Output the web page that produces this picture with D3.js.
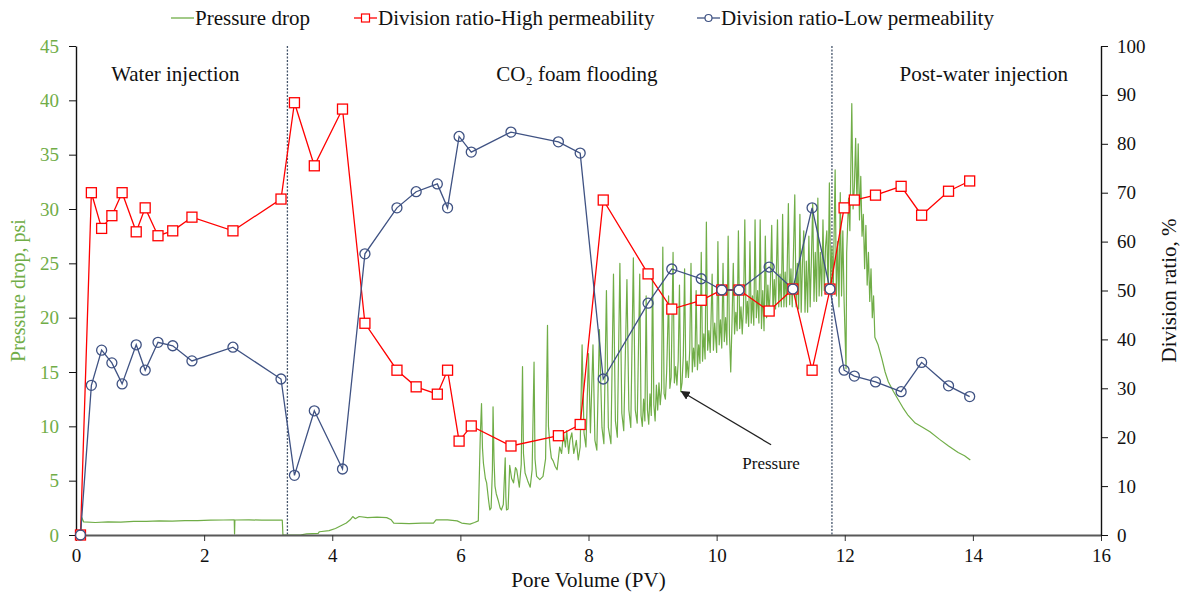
<!DOCTYPE html>
<html>
<head>
<meta charset="utf-8">
<script src="https://cdn.jsdelivr.net/npm/d3@7"></script>
<style>
  html, body { margin: 0; padding: 0; background: #fff; }
  svg { display: block; font-family: "Liberation Serif", "Times New Roman", serif; }
</style>
</head>
<body>
<svg id="chart" width="1183" height="598"></svg>
<script>
// Injection stages (pore volumes where the stage switches)
const stageBreaks = [3.30, 11.80];
const stageLabels = ["Water injection", "CO\u2082 foam flooding", "Post-water injection"];
const stageLabelPV = [1.55, 7.82, 14.17];

// Axis ticks
const xTicks = [0, 2, 4, 6, 8, 10, 12, 14, 16];
const pressureTicks = [0, 5, 10, 15, 20, 25, 30, 35, 40, 45];
const ratioTicks = [0, 10, 20, 30, 40, 50, 60, 70, 80, 90, 100];

// Sampling points of the division ratio (PV)
const samplePV = [0.07, 0.24, 0.40, 0.56, 0.72, 0.94, 1.08, 1.28, 1.51, 1.81, 2.45, 3.20,
  3.41, 3.72, 4.16, 4.51, 5.01, 5.31, 5.64, 5.80, 5.98, 6.17, 6.79, 7.53, 7.87,
  8.23, 8.93, 9.30, 9.76, 10.08, 10.35, 10.82, 11.19, 11.49, 11.77,
  11.99, 12.15, 12.48, 12.88, 13.20, 13.62, 13.95];

// Division ratio of the high-permeability core, %
const ratioHigh = [0, 70.0, 62.7, 65.3, 70.0, 62.0, 66.9, 61.2, 62.2, 65.0, 62.2, 68.7,
  88.4, 75.5, 87.1, 43.3, 33.7, 30.3, 28.8, 33.7, 19.2, 22.3, 18.2, 20.3, 22.6,
  68.5, 53.4, 46.2, 48.0, 50.1, 50.1, 45.8, 50.3, 33.7, 50.3,
  66.9, 68.5, 69.5, 71.3, 65.4, 70.3, 72.4];

// Division ratio of the low-permeability core, %
const ratioLow = [0, 30.6, 37.8, 35.2, 30.9, 38.9, 33.7, 39.4, 38.7, 35.6, 38.4, 31.9,
  12.2, 25.4, 13.5, 57.5, 66.9, 70.2, 71.8, 66.9, 81.5, 78.3, 82.4, 80.4, 78.1,
  31.9, 47.4, 54.4, 52.4, 50.1, 50.1, 54.8, 50.3, 66.9, 50.3,
  33.7, 32.5, 31.3, 29.3, 35.3, 30.5, 28.3];

// Recorded pressure drop [PV, psi]
const pressureTrace = [
  [0, 0], [0.07, 0], [0.09, 1.6], [0.12, 1.2], [0.3, 1.15], [0.5, 1.2], [0.7, 1.18], [0.9, 1.25],
  [1.1, 1.25], [1.3, 1.3], [1.5, 1.28], [1.7, 1.33], [1.9, 1.32], [2.1, 1.36], [2.3, 1.38],
  [2.47, 1.4], [2.475, 0.1], [2.48, 1.38], [2.7, 1.4], [2.9, 1.36], [3.1, 1.38], [3.22, 1.36],
  [3.23, 0], [3.5, 0], [3.6, 0.1], [3.78, 0.15], [3.8, 0.3], [3.95, 0.4], [4.05, 0.6],
  [4.15, 0.9], [4.22, 1.1], [4.28, 1.4], [4.32, 1.7], [4.36, 1.5], [4.42, 1.7], [4.55, 1.6],
  [4.7, 1.65], [4.85, 1.6], [4.92, 1.4], [4.96, 1.1], [5.2, 1.05], [5.4, 1.1], [5.58, 1.1],
  [5.62, 1.4], [5.8, 1.4], [5.95, 1.3], [6.02, 1.1], [6.15, 1.0], [6.22, 1.15], [6.28, 1.3],
  [6.29, 4.0], [6.31, 9.0], [6.33, 12.1], [6.345, 8.0], [6.36, 6.6], [6.39, 5.2], [6.41, 4.8],
  [6.44, 3.2], [6.46, 2.3], [6.48, 2.5], [6.50, 6.0], [6.51, 11.8], [6.525, 7.0], [6.54, 4.5],
  [6.56, 3.8], [6.59, 3.2], [6.62, 2.5], [6.64, 2.3], [6.67, 2.8], [6.70, 7.1], [6.71, 3.5],
  [6.72, 2.3], [6.745, 2.4], [6.77, 6.4], [6.80, 5.2], [6.83, 4.8], [6.86, 6.2], [6.88, 6.0],
  [6.92, 4.4], [6.95, 6.5], [6.97, 15.5], [6.985, 7.5], [7.01, 5.7], [7.05, 5.0], [7.09, 4.4],
  [7.12, 6.0], [7.15, 15.9], [7.165, 7.0], [7.19, 5.4], [7.24, 5.1], [7.29, 5.4], [7.33, 7.0],
  [7.36, 19.3], [7.375, 10.0], [7.40, 8.1], [7.42, 7.1], [7.45, 6.8], [7.48, 6.3], [7.51, 6.0],
  [7.55, 8.1], [7.58, 7.5], [7.61, 9.4], [7.64, 8.1], [7.66, 9.6], [7.69, 7.5], [7.71, 8.7],
  [7.74, 9.4], [7.77, 7.5], [7.81, 8.7], [7.84, 6.9], [7.87, 8.1], [7.90, 17.5], [7.93, 9.4],
  [7.96, 8.1], [8.00, 16.7], [8.03, 9.4], [8.07, 17.5], [8.10, 8.7], [8.13, 7.8], [8.17, 18.9],
  [8.21, 9.9], [8.24, 8.4], [8.28, 22.5], [8.31, 9.9], [8.35, 8.4], [8.39, 24.0], [8.42, 10.5],
  [8.45, 9.0], [8.49, 25.0], [8.52, 11.2], [8.55, 9.6], [8.60, 23.5], [8.63, 11.5], [8.66, 9.9],
  [8.70, 25.5], [8.73, 11.5], [8.76, 10.3], [8.80, 24.0], [8.82, 11.0], [8.84, 10.0], [8.86, 12.5],
  [8.88, 10.5], [8.90, 22.0], [8.92, 11.5], [8.94, 10.2], [8.96, 13.0], [8.98, 11.0], [9.00, 24.5],
  [9.02, 12.0], [9.04, 10.5], [9.06, 13.8], [9.08, 11.5], [9.10, 14.0], [9.12, 12.0], [9.14, 13.5],
  [9.16, 26.5], [9.18, 13.0], [9.20, 12.5], [9.22, 15.0], [9.25, 22.0], [9.27, 13.5], [9.29, 14.5],
  [9.32, 26.0], [9.34, 14.0], [9.36, 15.5], [9.38, 13.8], [9.40, 16.0], [9.42, 23.0], [9.44, 13.2],
  [9.46, 14.0], [9.48, 16.5], [9.50, 24.5], [9.52, 14.5], [9.54, 16.0], [9.56, 14.5], [9.58, 17.0],
  [9.60, 25.0], [9.62, 15.0], [9.64, 17.2], [9.66, 15.5], [9.68, 22.5], [9.70, 15.2], [9.72, 17.5],
  [9.74, 15.8], [9.76, 26.0], [9.78, 16.0], [9.80, 18.5], [9.82, 16.2], [9.84, 28.8], [9.86, 17.0],
  [9.88, 18.8], [9.90, 16.8], [9.93, 24.0], [9.95, 17.0], [9.97, 19.5], [10.00, 16.8], [10.02, 27.0],
  [10.04, 17.5], [10.06, 19.8], [10.08, 17.2], [10.10, 25.0], [10.12, 17.8], [10.14, 20.0],
  [10.16, 17.5], [10.18, 27.5], [10.20, 18.5], [10.22, 15.0], [10.24, 19.5], [10.26, 25.0],
  [10.28, 18.5], [10.30, 20.5], [10.32, 18.8], [10.34, 28.0], [10.36, 19.0], [10.38, 21.0],
  [10.40, 18.5], [10.42, 21.2], [10.44, 29.0], [10.46, 19.5], [10.48, 21.5], [10.50, 19.2],
  [10.52, 27.0], [10.54, 19.5], [10.56, 22.0], [10.58, 19.3], [10.60, 29.0], [10.62, 20.0],
  [10.64, 22.5], [10.66, 19.5], [10.68, 29.0], [10.70, 19.0], [10.72, 22.5], [10.74, 18.8],
  [10.76, 27.5], [10.78, 20.0], [10.80, 23.0], [10.82, 20.2], [10.84, 23.2], [10.86, 28.5],
  [10.88, 20.5], [10.90, 23.5], [10.92, 20.8], [10.95, 29.0], [10.97, 21.0], [10.99, 24.0],
  [11.01, 21.0], [11.03, 29.5], [11.05, 21.0], [11.07, 24.2], [11.09, 21.0], [11.12, 30.5],
  [11.14, 21.2], [11.16, 24.5], [11.18, 21.0], [11.22, 31.3], [11.24, 21.0], [11.26, 25.0],
  [11.28, 20.8], [11.30, 29.5], [11.32, 20.5], [11.34, 25.0], [11.36, 28.0], [11.38, 20.5],
  [11.40, 25.2], [11.42, 20.5], [11.44, 27.5], [11.46, 21.0], [11.48, 25.5], [11.50, 30.5],
  [11.52, 21.5], [11.54, 26.0], [11.56, 21.5], [11.58, 31.0], [11.60, 22.0], [11.62, 26.0],
  [11.64, 22.0], [11.66, 29.0], [11.68, 22.5], [11.70, 26.5], [11.72, 28.0], [11.74, 22.5],
  [11.76, 32.4], [11.78, 23.0], [11.80, 26.5], [11.82, 22.5], [11.85, 33.6], [11.87, 22.0],
  [11.89, 27.0], [11.91, 21.0], [11.93, 31.5], [11.95, 22.0], [11.97, 28.0], [11.99, 21.5],
  [12.02, 15.3], [12.03, 26.0], [12.06, 31.0], [12.08, 28.0], [12.11, 39.7], [12.13, 30.0],
  [12.15, 32.0], [12.17, 36.5], [12.19, 30.5], [12.21, 36.0], [12.23, 29.0], [12.25, 33.0],
  [12.27, 27.5], [12.29, 29.5], [12.31, 24.5], [12.33, 28.5], [12.35, 23.0], [12.37, 26.0],
  [12.39, 21.5], [12.41, 24.5], [12.43, 20.0], [12.45, 22.0], [12.47, 18.2], [12.52, 17.5],
  [12.58, 16.2], [12.63, 15.0], [12.68, 14.1], [12.76, 13.2], [12.84, 12.4], [12.92, 11.6],
  [12.99, 11.0], [13.1, 10.3], [13.22, 9.9], [13.33, 9.5], [13.48, 8.8], [13.62, 8.2],
  [13.77, 7.6], [13.87, 7.3], [13.96, 6.9]
];

// Legend entries
const legendNames = ["Pressure drop", "Division ratio-High permeability", "Division ratio-Low permeability"];
const legendX = [171, 354, 697];

const colGreen = "#70AD47", colRed = "#FF0000", colBlue = "#3F5283";

const svg = d3.select("#chart");
const W = 1183, H = 598;
const m = { left: 76, right: W - 1101, top: 46, bottom: H - 535 };

const x = d3.scaleLinear().domain([0, 16]).range([m.left, W - m.right]);
const yP = d3.scaleLinear().domain([0, 45]).range([H - m.bottom, m.top]);
const yR = d3.scaleLinear().domain([0, 100]).range([H - m.bottom, m.top]);

// Stage dividers
svg.append("g").selectAll("line").data(stageBreaks).join("line")
  .attr("x1", d => x(d)).attr("x2", d => x(d))
  .attr("y1", yR(100)).attr("y2", yR(0))
  .attr("stroke", "#44546A").attr("stroke-width", 1.3).attr("stroke-dasharray", "2,1.5");

// Stage names
svg.append("g").selectAll("text").data(stageLabels).join("text")
  .attr("x", (d, i) => x(stageLabelPV[i]))
  .attr("y", 81)
  .attr("text-anchor", "middle")
  .attr("font-size", 21)
  .attr("fill", "#111")
  .text(d => d);

// Pressure drop trace
svg.append("path")
  .datum(pressureTrace)
  .attr("fill", "none")
  .attr("stroke", colGreen)
  .attr("stroke-width", 1.2)
  .attr("stroke-linejoin", "round")
  .attr("d", d3.line().x(d => x(d[0])).y(d => yP(d[1])));

// Axes
const xAxis = svg.append("g").attr("transform", `translate(0,${yP(0)})`)
  .call(d3.axisBottom(x).tickValues(xTicks).tickSize(6).tickSizeOuter(0).tickPadding(8));
xAxis.select(".domain").attr("stroke", "#595959").attr("stroke-width", 2);
xAxis.selectAll(".tick line").attr("stroke", "#333");
xAxis.selectAll("text").attr("font-size", 19).attr("fill", "#111")
  .attr("font-family", "Liberation Serif");

const yAxisL = svg.append("g").attr("transform", `translate(${m.left},0)`)
  .call(d3.axisLeft(yP).tickValues(pressureTicks).tickSize(7).tickSizeOuter(0).tickPadding(10));
yAxisL.select(".domain").attr("stroke", "#111").attr("stroke-width", 1.4);
yAxisL.selectAll(".tick line").attr("stroke", "#111");
yAxisL.selectAll("text").attr("font-size", 19).attr("fill", colGreen)
  .attr("font-family", "Liberation Serif");

const yAxisR = svg.append("g").attr("transform", `translate(${W - m.right},0)`)
  .call(d3.axisRight(yR).tickValues(ratioTicks).tickSize(7).tickSizeOuter(0).tickPadding(9));
yAxisR.select(".domain").attr("stroke", "#111").attr("stroke-width", 1.4);
yAxisR.selectAll(".tick line").attr("stroke", "#111");
yAxisR.selectAll("text").attr("font-size", 19).attr("fill", "#111")
  .attr("font-family", "Liberation Serif");

// Axis titles
svg.append("text")
  .attr("transform", `translate(25,${(yP(0) + yP(45)) / 2}) rotate(-90)`)
  .attr("text-anchor", "middle").attr("font-size", 20).attr("fill", colGreen)
  .text("Pressure drop, psi");
svg.append("text")
  .attr("transform", `translate(1176,${(yR(0) + yR(100)) / 2}) rotate(-90)`)
  .attr("text-anchor", "middle").attr("font-size", 21).attr("fill", "#111")
  .text("Division ratio, %");
svg.append("text")
  .attr("x", (x(0) + x(16)) / 2).attr("y", 587)
  .attr("text-anchor", "middle").attr("font-size", 21).attr("fill", "#111")
  .text("Pore Volume (PV)");

// Division ratio series
const ratioLine = vals => d3.line().x((d, i) => x(samplePV[i])).y(d => yR(d))(vals);

svg.append("path").attr("d", ratioLine(ratioHigh))
  .attr("fill", "none").attr("stroke", colRed).attr("stroke-width", 1.3);
svg.append("path").attr("d", ratioLine(ratioLow))
  .attr("fill", "none").attr("stroke", colBlue).attr("stroke-width", 1.3);

svg.append("g").selectAll("rect").data(ratioHigh).join("rect")
  .attr("x", (d, i) => x(samplePV[i]) - 5).attr("y", d => yR(d) - 5)
  .attr("width", 10).attr("height", 10)
  .attr("fill", "#fff").attr("stroke", colRed).attr("stroke-width", 1.3);
svg.append("g").selectAll("circle").data(ratioLow).join("circle")
  .attr("cx", (d, i) => x(samplePV[i])).attr("cy", d => yR(d)).attr("r", 5)
  .attr("fill", "none").attr("stroke", colBlue).attr("stroke-width", 1.3);

// Annotation arrow for the pressure trace
const defs = svg.append("defs");
defs.append("marker").attr("id", "arrowhead")
  .attr("viewBox", "0 0 10 10").attr("refX", 9).attr("refY", 5)
  .attr("markerWidth", 7).attr("markerHeight", 7).attr("orient", "auto")
  .append("path").attr("d", "M0,0 L10,5 L0,10 z").attr("fill", "#222");
svg.append("line")
  .attr("x1", x(10.85)).attr("y1", yP(8.3))
  .attr("x2", x(9.45)).attr("y2", yP(13.2))
  .attr("stroke", "#222").attr("stroke-width", 1.3)
  .attr("marker-end", "url(#arrowhead)");
svg.append("text")
  .attr("x", x(10.85)).attr("y", yP(6.1))
  .attr("text-anchor", "middle").attr("font-size", 17).attr("fill", "#111")
  .text("Pressure");

// Legend
const legend = svg.append("g").attr("font-size", 21);
legendNames.forEach((name, i) => {
  const g = legend.append("g").attr("transform", `translate(${legendX[i]},18)`);
  const col = [colGreen, colRed, colBlue][i];
  g.append("line").attr("x1", 0).attr("x2", 23).attr("y1", 0).attr("y2", 0)
    .attr("stroke", col).attr("stroke-width", 1.3);
  if (i === 1) {
    g.append("rect").attr("x", 7.5).attr("y", -4).attr("width", 8).attr("height", 8)
      .attr("fill", "#fff").attr("stroke", col).attr("stroke-width", 1.2);
  } else if (i === 2) {
    g.append("circle").attr("cx", 11.5).attr("cy", 0).attr("r", 3.5)
      .attr("fill", "#fff").attr("stroke", col).attr("stroke-width", 1.2);
  }
  g.append("text").attr("x", 24).attr("y", 7).attr("fill", "#111").text(name);
});
</script>
</body>
</html>
